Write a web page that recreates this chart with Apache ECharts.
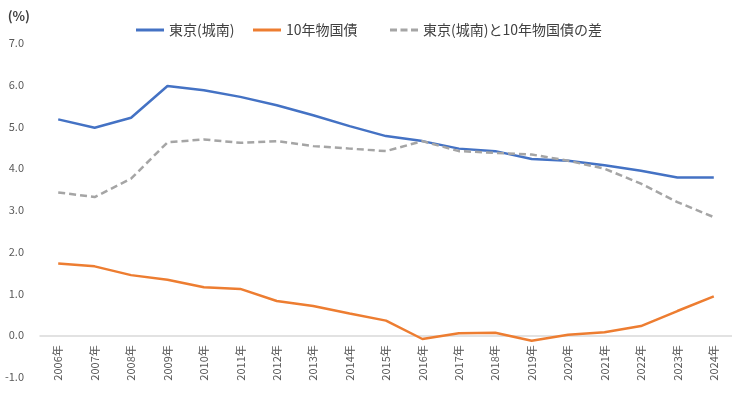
<!DOCTYPE html>
<html>
<head>
<meta charset="utf-8">
<script src="https://cdn.jsdelivr.net/npm/echarts@6/dist/echarts.min.js"></script>
<style>
html,body{margin:0;padding:0;background:#fff;}
#c{width:732px;height:394px;}
</style>
</head>
<body>
<div id="c"></div>
<script>
var categories = ['2006年','2007年','2008年','2009年','2010年','2011年','2012年','2013年','2014年','2015年','2016年','2017年','2018年','2019年','2020年','2021年','2022年','2023年','2024年'];
var tokyoJonan = [5.17,4.97,5.21,5.97,5.87,5.71,5.51,5.27,5.01,4.77,4.65,4.47,4.41,4.22,4.18,4.07,3.94,3.78,3.78];
var jgb10y = [1.72,1.65,1.44,1.33,1.15,1.11,0.82,0.70,0.52,0.35,-0.09,0.05,0.06,-0.13,0.01,0.07,0.22,0.58,0.93];
var spread = [3.42,3.31,3.75,4.62,4.69,4.61,4.65,4.53,4.47,4.41,4.65,4.41,4.37,4.33,4.18,3.99,3.63,3.19,2.83];
var seriesNames = ['東京(城南)','10年物国債','東京(城南)と10年物国債の差'];
var yTicks = {min:-1, max:7, interval:1};

var FONT = '"Noto Sans CJK JP", "Noto Sans", sans-serif';
var GRID_TOP = 43, GRID_BOTTOM = 17, H = 394;
var unitPx = (H - GRID_TOP - GRID_BOTTOM) / (yTicks.max - yTicks.min);
var chart = echarts.init(document.getElementById('c'), null, {renderer:'canvas'});
var solidIcon = 'path://M0,0H28V3H0Z';
var dashIcon = 'path://M0,0H7V3H0Z M10.5,0H17.5V3H10.5Z M21,0H28V3H21Z';
function legendAt(name, left, icon, color){
  return {
    data:[{name:name, icon:icon, itemStyle:{color:color}}], left:left, top:18, itemWidth:28, itemHeight:3, itemGap:0,
    textStyle:{fontFamily:FONT, fontSize:14, color:'#404040'},
    selectedMode:false
  };
}
chart.setOption({
  animation:false,
  textStyle:{fontFamily:FONT},
  legend:[legendAt(seriesNames[0],131,solidIcon,'#4472C4'), legendAt(seriesNames[1],248,solidIcon,'#ED7D31'), legendAt(seriesNames[2],385,dashIcon,'#A5A5A5')],
  grid:{left:40, right:0, top:GRID_TOP, bottom:GRID_BOTTOM, containLabel:false, outerBoundsMode:'none'},
  xAxis:{
    type:'category', data:categories, boundaryGap:true,
    offset: -unitPx * (0 - yTicks.min),
    axisLine:{onZero:false, lineStyle:{color:'#d9d9d9', width:1.5}},
    axisTick:{show:false},
    axisLabel:{rotate:90, fontSize:11, color:'#595959', margin:10, fontFamily:FONT, interval:0},
    splitLine:{show:false}
  },
  yAxis:{
    type:'value', min:yTicks.min, max:yTicks.max, interval:yTicks.interval,
    name:'(%)', nameLocation:'end', nameGap:20,
    nameTextStyle:{fontFamily:FONT, fontSize:13, fontWeight:'bold', color:'#404040', align:'right', padding:[0,10,0,0]},
    axisLine:{show:false}, axisTick:{show:false}, splitLine:{show:false},
    axisLabel:{fontSize:11, color:'#595959', margin:16, fontFamily:FONT, formatter:function(v){return v.toFixed(1);}}
  },
  series:[
    {name:seriesNames[0], type:'line', data:tokyoJonan, symbol:'none', lineStyle:{color:'#4472C4', width:2.5}, itemStyle:{color:'#4472C4'}},
    {name:seriesNames[1], type:'line', data:jgb10y, symbol:'none', lineStyle:{color:'#ED7D31', width:2.5}, itemStyle:{color:'#ED7D31'}},
    {name:seriesNames[2], type:'line', data:spread, symbol:'none', lineStyle:{color:'#A5A5A5', width:2.5, type:[7,4]}, itemStyle:{color:'#A5A5A5'}}
  ]
});
</script>
</body>
</html>
